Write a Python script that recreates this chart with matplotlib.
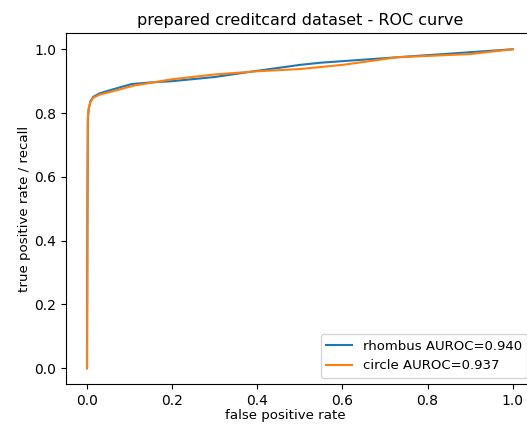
import matplotlib
matplotlib.use('Agg')
import matplotlib.pyplot as plt

# ROC points
rhombus_fpr = [0.0, 0.001, 0.002, 0.004, 0.008, 0.015, 0.03, 0.06, 0.105, 0.15, 0.2, 0.3, 0.376, 0.5, 0.55, 0.73, 1.0]
rhombus_tpr = [0.0, 0.5, 0.78, 0.812, 0.837, 0.851, 0.862, 0.874, 0.891, 0.896, 0.9, 0.913, 0.928, 0.951, 0.958, 0.975, 1.0]
circle_fpr = [0.0, 0.001, 0.002, 0.004, 0.008, 0.015, 0.03, 0.06, 0.11, 0.2, 0.3, 0.4, 0.5, 0.6, 0.73, 0.9, 1.0]
circle_tpr = [0.0, 0.5, 0.79, 0.815, 0.835, 0.848, 0.858, 0.868, 0.886, 0.906, 0.921, 0.931, 0.938, 0.951, 0.975, 0.985, 1.0]
rhombus_auc = 0.940
circle_auc = 0.937

fig = plt.figure(figsize=(5.27, 4.26), dpi=100)
ax = fig.add_axes([0.1247, 0.0981, 0.8886, 0.8237])

ax.plot(rhombus_fpr, rhombus_tpr, label='rhombus AUROC=%.3f' % rhombus_auc)
ax.plot(circle_fpr, circle_tpr, label='circle AUROC=%.3f' % circle_auc)

ax.set_title('prepared creditcard dataset - ROC curve', fontsize=11.5)
ax.set_xlabel('false positive rate', fontsize=9.6, x=0.468, labelpad=0.5)
ax.set_ylabel('true positive rate / recall', fontsize=9.6, labelpad=2)
ax.legend(loc='lower right', fontsize=9.5)

fig.savefig('out.png', dpi=100)
